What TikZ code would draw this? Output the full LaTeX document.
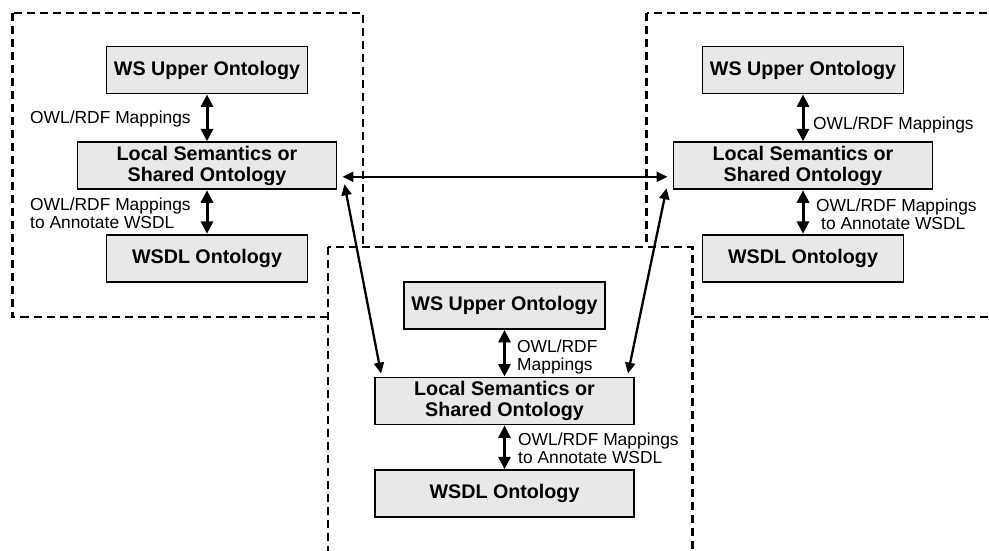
\documentclass[tikz,border=0pt]{standalone}
\usepackage{fontspec}
\setmainfont{Liberation Sans}
\usetikzlibrary{arrows.meta}
\definecolor{boxgray}{RGB}{232,232,232}
\begin{document}
\begin{tikzpicture}[x=1pt,y=-1pt,
  onto/.style={draw=black, line width=1.9pt, fill=boxgray, inner sep=0pt, align=center,
    minimum height=47pt, font=\bfseries\fontsize{19.7pt}{20.5pt}\selectfont},
  narrow/.style={onto, minimum width=201pt},
  wide/.style={onto, minimum width=259pt},
  maplabel/.style={inner sep=0pt, align=left, anchor=west, font=\fontsize{17.4pt}{18pt}\selectfont},
  region/.style={line width=2.1pt, dash pattern=on 8pt off 5pt},
  vlink/.style={line width=3pt, {Triangle[length=12.5pt,width=12pt]}-{Triangle[length=12.5pt,width=12pt]}},
  xlink/.style={line width=2.3pt, {Triangle[length=11pt,width=10pt]}-{Triangle[length=11pt,width=10pt]}},
]
\useasboundingbox (0,0) rectangle (989,550);
\clip (0,0) rectangle (989,550);

% dashed domain boundaries; the lower one sits on top of the other two
\draw[region] (12.5,13) rectangle (363,317);
\draw[region] (646.5,13) rectangle (1000,317);
\draw[region, fill=white] (328,247) rectangle (692.5,560);

% left domain
\node[narrow] (lu) at (207,70) {WS Upper Ontology};
\node[wide]   (ll) at (207,165.8) {Local Semantics or\\Shared Ontology};
\node[narrow] (lw) at (207,258.3) {WSDL Ontology};

% right domain
\node[narrow] (ru) at (803,70) {WS Upper Ontology};
\node[wide]   (rl) at (803,165.8) {Local Semantics or\\Shared Ontology};
\node[narrow] (rw) at (803,258.3) {WSDL Ontology};

% lower domain
\node[narrow] (bu) at (504.5,305.5) {WS Upper Ontology};
\node[wide]   (bl) at (504.5,401) {Local Semantics or\\Shared Ontology};
\node[wide]   (bw) at (504.5,493.7) {WSDL Ontology};

% mappings inside each domain
\draw[vlink] (lu) -- (ll);
\draw[vlink] (ll) -- (lw);
\draw[vlink] (ru) -- (rl);
\draw[vlink] (rl) -- (rw);
\draw[vlink] (bu) -- (bl);
\draw[vlink] (bl) -- (bw);

% links between the shared ontologies
\draw[xlink] ([shift={(5,11)}]ll.east) -- ([shift={(-5,11)}]rl.west);
\draw[xlink] ([shift={(7,-6)}]ll.south east) -- ([shift={(7,-3)}]bl.north west);
\draw[xlink] ([shift={(-6,-2)}]rl.south west) -- ([shift={(-7,-3)}]bl.north east);

% mapping labels
\node[maplabel] (lm1) at (30,119) {OWL/RDF Mappings};
\node[maplabel] (lm2) at (30,213) {OWL/RDF Mappings\\to Annotate WSDL};
\node[maplabel] (rm1) at (813,125) {OWL/RDF Mappings};
\node[maplabel] (rm2) at (816,214) {OWL/RDF Mappings\\\hspace*{5pt}to Annotate WSDL};
\node[maplabel] (bm1) at (517,356.5) {OWL/RDF\\Mappings};
\node[maplabel] (bm2) at (518,448.5) {OWL/RDF Mappings\\to Annotate WSDL};
\end{tikzpicture}
\end{document}
